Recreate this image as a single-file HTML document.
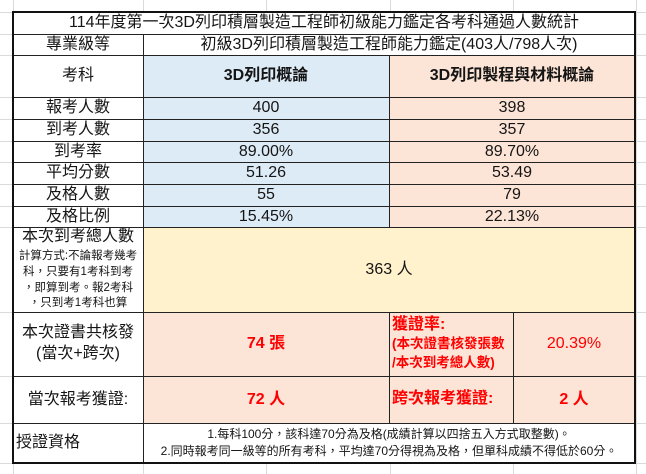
<!DOCTYPE html>
<html>
<head>
<meta charset="utf-8">
<style>
html,body{margin:0;padding:0;background:#fff;}
body{width:646px;height:474px;position:relative;overflow:hidden;
font-family:"Liberation Sans","Noto Sans CJK TC","Noto Sans CJK SC",sans-serif;color:#151515;}
.g{position:absolute;background:#dadada;}
.fill{position:absolute;}
.l{position:absolute;background:#222;}
.c{position:absolute;display:flex;align-items:center;justify-content:center;text-align:center;white-space:nowrap;font-size:16px;line-height:1;}
.t{position:absolute;white-space:nowrap;text-align:center;}
.red{color:#ff0000;}
.b{font-weight:bold;}
</style>
</head>
<body>
<!-- spreadsheet gridlines -->
<div class="g" style="left:0;top:12px;width:646px;height:1px"></div>
<div class="g" style="left:0;top:34px;width:646px;height:1px"></div>
<div class="g" style="left:0;top:55px;width:646px;height:1px"></div>
<div class="g" style="left:0;top:97px;width:646px;height:1px"></div>
<div class="g" style="left:0;top:119px;width:646px;height:1px"></div>
<div class="g" style="left:0;top:141px;width:646px;height:1px"></div>
<div class="g" style="left:0;top:162px;width:646px;height:1px"></div>
<div class="g" style="left:0;top:184px;width:646px;height:1px"></div>
<div class="g" style="left:0;top:206px;width:646px;height:1px"></div>
<div class="g" style="left:0;top:227px;width:646px;height:1px"></div>
<div class="g" style="left:0;top:312px;width:646px;height:1px"></div>
<div class="g" style="left:0;top:376px;width:646px;height:1px"></div>
<div class="g" style="left:0;top:423px;width:646px;height:1px"></div>
<div class="g" style="left:0;top:463px;width:646px;height:1px"></div>
<div class="g" style="left:13px;top:0;width:1px;height:474px"></div>
<div class="g" style="left:143px;top:0;width:1px;height:474px"></div>
<div class="g" style="left:266px;top:0;width:1px;height:474px"></div>
<div class="g" style="left:390px;top:0;width:1px;height:474px"></div>
<div class="g" style="left:513px;top:0;width:1px;height:474px"></div>
<div class="g" style="left:636px;top:0;width:1px;height:474px"></div>

<!-- table background -->
<div class="fill" style="left:13px;top:12px;width:622px;height:452px;background:#fff"></div>
<div class="fill" style="left:143px;top:55px;width:246px;height:172px;background:#ddebf7"></div>
<div class="fill" style="left:389px;top:55px;width:246px;height:172px;background:#fce4d6"></div>
<div class="fill" style="left:143px;top:227px;width:492px;height:85px;background:#fff2cc"></div>
<div class="fill" style="left:143px;top:312px;width:492px;height:111px;background:#fce4d6"></div>

<!-- inner lines -->
<div class="l" style="left:13px;top:34px;width:622px;height:1px"></div>
<div class="l" style="left:13px;top:55px;width:622px;height:1px"></div>
<div class="l" style="left:13px;top:97px;width:622px;height:1px"></div>
<div class="l" style="left:13px;top:119px;width:622px;height:1px"></div>
<div class="l" style="left:13px;top:141px;width:622px;height:1px"></div>
<div class="l" style="left:13px;top:162px;width:622px;height:1px"></div>
<div class="l" style="left:13px;top:184px;width:622px;height:1px"></div>
<div class="l" style="left:13px;top:206px;width:622px;height:1px"></div>
<div class="l" style="left:13px;top:227px;width:622px;height:1px"></div>
<div class="l" style="left:13px;top:312px;width:622px;height:1px"></div>
<div class="l" style="left:13px;top:376px;width:622px;height:1px"></div>
<div class="l" style="left:13px;top:423px;width:622px;height:1px"></div>
<div class="l" style="left:143px;top:34px;width:1px;height:430px"></div>
<div class="l" style="left:389px;top:55px;width:1px;height:172px"></div>
<div class="l" style="left:389px;top:312px;width:1px;height:111px"></div>
<div class="l" style="left:513px;top:312px;width:1px;height:111px"></div>

<!-- outer border -->
<div style="position:absolute;left:12px;top:11px;width:620px;height:449px;border:2px solid #111;"></div>

<!-- texts -->
<div class="c" style="left:13px;top:12px;width:622px;height:22px">114年度第一次3D列印積層製造工程師初級能力鑑定各考科通過人數統計</div>

<div class="c" style="left:13px;top:34px;width:130px;height:21px">專業級等</div>
<div class="c" style="left:143px;top:34px;width:492px;height:21px">初級3D列印積層製造工程師能力鑑定(403人/798人次)</div>

<div class="c" style="left:13px;top:55px;width:130px;height:42px">考科</div>
<div class="c b" style="left:143px;top:55px;width:246px;height:42px">3D列印概論</div>
<div class="c b" style="left:389px;top:55px;width:246px;height:42px">3D列印製程與材料概論</div>

<div class="c" style="left:13px;top:97px;width:130px;height:22px">報考人數</div>
<div class="c" style="left:143px;top:97px;width:246px;height:22px">400</div>
<div class="c" style="left:389px;top:97px;width:246px;height:22px">398</div>

<div class="c" style="left:13px;top:119px;width:130px;height:22px">到考人數</div>
<div class="c" style="left:143px;top:119px;width:246px;height:22px">356</div>
<div class="c" style="left:389px;top:119px;width:246px;height:22px">357</div>

<div class="c" style="left:13px;top:141px;width:130px;height:21px">到考率</div>
<div class="c" style="left:143px;top:141px;width:246px;height:21px">89.00%</div>
<div class="c" style="left:389px;top:141px;width:246px;height:21px">89.70%</div>

<div class="c" style="left:13px;top:162px;width:130px;height:22px">平均分數</div>
<div class="c" style="left:143px;top:162px;width:246px;height:22px">51.26</div>
<div class="c" style="left:389px;top:162px;width:246px;height:22px">53.49</div>

<div class="c" style="left:13px;top:184px;width:130px;height:22px">及格人數</div>
<div class="c" style="left:143px;top:184px;width:246px;height:22px">55</div>
<div class="c" style="left:389px;top:184px;width:246px;height:22px">79</div>

<div class="c" style="left:13px;top:206px;width:130px;height:21px">及格比例</div>
<div class="c" style="left:143px;top:206px;width:246px;height:21px">15.45%</div>
<div class="c" style="left:389px;top:206px;width:246px;height:21px">22.13%</div>

<!-- total attendees -->
<div class="t" style="left:13px;width:130px;top:229px;font-size:16px;line-height:16px">本次到考總人數</div>
<div class="t" style="left:13px;width:130px;top:248px;font-size:11.5px;line-height:16px">計算方式:不論報考幾考</div>
<div class="t" style="left:13px;width:130px;top:264px;font-size:11.5px;line-height:16px">科，只要有1考科到考</div>
<div class="t" style="left:13px;width:130px;top:280px;font-size:11.5px;line-height:16px">，即算到考。報2考科</div>
<div class="t" style="left:13px;width:130px;top:295px;font-size:11.5px;line-height:16px">，只到考1考科也算</div>
<div class="c" style="left:143px;top:227px;width:492px;height:85px">363 人</div>

<!-- certificates -->
<div class="t" style="left:13px;width:130px;top:324px;font-size:16px;line-height:18px">本次證書共核發</div>
<div class="t" style="left:13px;width:130px;top:345px;font-size:16px;line-height:18px">(當次+跨次)</div>
<div class="c red b" style="left:143px;top:312px;width:246px;height:64px">74 張</div>
<div class="t red b" style="left:392px;top:317px;font-size:16px;line-height:16px;text-align:left">獲證率:</div>
<div class="t red b" style="left:392px;top:336px;font-size:13.5px;line-height:16px;text-align:left">(本次證書核發張數</div>
<div class="t red b" style="left:392px;top:355px;font-size:13.5px;line-height:16px;text-align:left">/本次到考總人數)</div>
<div class="c red" style="left:513px;top:312px;width:122px;height:64px">20.39%</div>

<div class="c" style="left:13px;top:376px;width:130px;height:47px">當次報考獲證:</div>
<div class="c red b" style="left:143px;top:376px;width:246px;height:47px">72 人</div>
<div class="t red b" style="left:392px;top:391px;font-size:16px;line-height:16px;text-align:left">跨次報考獲證:</div>
<div class="c red b" style="left:513px;top:376px;width:122px;height:47px">2 人</div>

<div class="t" style="left:16px;top:435px;font-size:16px;line-height:16px;text-align:left">授證資格</div>
<div class="t" style="left:143px;width:492px;top:426px;font-size:12px;line-height:16px">1.每科100分，該科達70分為及格(成績計算以四捨五入方式取整數)。</div>
<div class="t" style="left:143px;width:492px;top:443px;font-size:12px;line-height:16px">2.同時報考同一級等的所有考科，平均達70分得視為及格，但單科成績不得低於60分。</div>
</body>
</html>
